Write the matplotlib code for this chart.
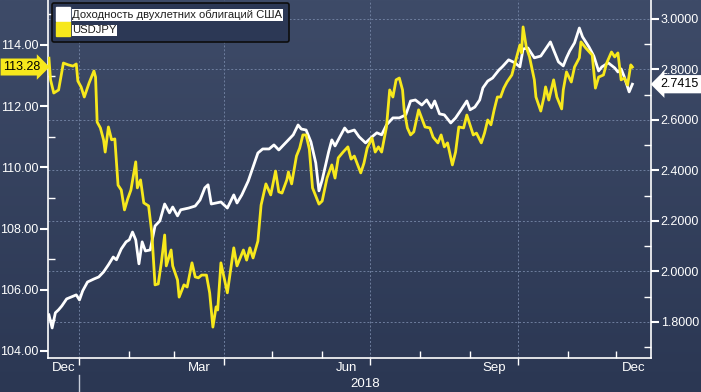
import numpy as np
import pandas as pd
import matplotlib
matplotlib.use('Agg')
import matplotlib.pyplot as plt
import matplotlib.dates as mdates
import matplotlib.ticker as mticker
import matplotlib.transforms as mtransforms
from matplotlib.lines import Line2D

plt.rcParams['font.family'] = ['Liberation Sans', 'DejaVu Sans']

# USDJPY (left axis)
jpy_dates = [
    '2017-12-13', '2017-12-14', '2017-12-16', '2017-12-19', '2017-12-22', '2017-12-25', '2017-12-28', '2017-12-30', '2017-12-31',
    '2018-01-02', '2018-01-04', '2018-01-07', '2018-01-10', '2018-01-11', '2018-01-12', '2018-01-14', '2018-01-16',
    '2018-01-17', '2018-01-19', '2018-01-21', '2018-01-23', '2018-01-25', '2018-01-27', '2018-01-29', '2018-01-31',
    '2018-02-02', '2018-02-05', '2018-02-06', '2018-02-08', '2018-02-10', '2018-02-13', '2018-02-15', '2018-02-17',
    '2018-02-19', '2018-02-21', '2018-02-23', '2018-02-24', '2018-02-27', '2018-02-28',
    '2018-03-03', '2018-03-04', '2018-03-07', '2018-03-09', '2018-03-12', '2018-03-14', '2018-03-16', '2018-03-18',
    '2018-03-21', '2018-03-23', '2018-03-25', '2018-03-27', '2018-03-28', '2018-03-30',
    '2018-04-03', '2018-04-07', '2018-04-09', '2018-04-13', '2018-04-15', '2018-04-17', '2018-04-19', '2018-04-22',
    '2018-04-24', '2018-04-27', '2018-04-30',
    '2018-05-03', '2018-05-05', '2018-05-07', '2018-05-10', '2018-05-11', '2018-05-13', '2018-05-16', '2018-05-18',
    '2018-05-20', '2018-05-22', '2018-05-24', '2018-05-26', '2018-05-30',
    '2018-06-01', '2018-06-04', '2018-06-07', '2018-06-09', '2018-06-11', '2018-06-14', '2018-06-17', '2018-06-19',
    '2018-06-21', '2018-06-25', '2018-06-27', '2018-06-29',
    '2018-07-02', '2018-07-04', '2018-07-06', '2018-07-08', '2018-07-11', '2018-07-13', '2018-07-15', '2018-07-17',
    '2018-07-19', '2018-07-21', '2018-07-22', '2018-07-24', '2018-07-26', '2018-07-28', '2018-07-31',
    '2018-08-04', '2018-08-07', '2018-08-09', '2018-08-12', '2018-08-14', '2018-08-16', '2018-08-18', '2018-08-21',
    '2018-08-23', '2018-08-25', '2018-08-28', '2018-08-30',
    '2018-09-03', '2018-09-05', '2018-09-08', '2018-09-10', '2018-09-12', '2018-09-14', '2018-09-16', '2018-09-18',
    '2018-09-20', '2018-09-22', '2018-09-24', '2018-09-27', '2018-09-30',
    '2018-10-02', '2018-10-03', '2018-10-04', '2018-10-06', '2018-10-08', '2018-10-11', '2018-10-12', '2018-10-15',
    '2018-10-17', '2018-10-18', '2018-10-20', '2018-10-23', '2018-10-25', '2018-10-28', '2018-10-29', '2018-10-31',
    '2018-11-03', '2018-11-05', '2018-11-08', '2018-11-09', '2018-11-12', '2018-11-16', '2018-11-18', '2018-11-20',
    '2018-11-23', '2018-11-25', '2018-11-28', '2018-11-30',
    '2018-12-02', '2018-12-04', '2018-12-06', '2018-12-08', '2018-12-10', '2018-12-11',
]
jpy_values = [
    113.57, 112.86, 112.43, 112.53, 113.41, 113.35, 113.31, 113.38, 112.82,
    112.63, 112.30, 112.76, 113.15, 112.95, 111.48, 111.29, 110.90,
    110.50, 111.32, 110.90, 110.93, 109.42, 109.26, 108.61, 108.97,
    109.26, 110.18, 109.33, 109.59, 108.84, 108.74, 107.86, 106.16,
    106.19, 106.91, 107.79, 106.78, 107.30, 106.78,
    106.32, 105.76, 106.16, 106.09, 106.88, 106.42, 106.39, 106.48,
    106.48, 105.90, 104.78, 105.44, 105.34, 106.88,
    105.90, 107.37, 106.78, 107.30, 106.97, 107.37, 107.04, 107.59,
    108.77, 109.46, 109.10,
    109.88, 109.20, 109.16, 109.59, 109.85, 109.46, 110.37, 110.63,
    111.06, 111.06, 110.60, 109.33, 108.80,
    108.90, 109.65, 110.08, 109.65, 110.31, 110.50, 110.67, 110.27,
    110.37, 109.82, 110.14, 110.63,
    110.96, 110.50, 110.67, 110.50, 111.32, 112.53, 112.30, 112.86,
    112.92, 112.53, 111.88, 111.29, 111.06, 111.16, 111.88,
    111.32, 111.29, 110.99, 110.80, 111.06, 110.67, 110.80, 110.08,
    110.50, 111.32, 111.29, 111.71,
    111.06, 111.12, 110.80, 111.12, 111.55, 111.39, 111.88, 112.30,
    112.30, 112.59, 112.79, 113.02, 113.61,
    114.00, 113.74, 114.59, 113.93, 113.61, 112.86, 112.30, 111.84,
    112.30, 112.63, 112.20, 112.86, 112.30, 111.91, 112.53, 113.12,
    112.79, 113.28, 113.58, 114.10, 113.90, 113.67, 112.59, 112.95,
    113.02, 113.41, 113.77, 113.61,
    113.74, 112.86, 112.92, 112.69, 113.35, 113.28,
]

# US 2-year yield (right axis)
ust_dates = [
    '2017-12-13', '2017-12-15', '2017-12-17', '2017-12-19', '2017-12-21', '2017-12-24', '2017-12-27', '2017-12-30',
    '2018-01-01', '2018-01-03', '2018-01-06', '2018-01-10', '2018-01-13', '2018-01-16', '2018-01-19', '2018-01-22',
    '2018-01-24', '2018-01-27', '2018-01-30',
    '2018-02-01', '2018-02-03', '2018-02-05', '2018-02-07', '2018-02-09', '2018-02-11', '2018-02-14', '2018-02-17',
    '2018-02-20', '2018-02-23', '2018-02-26', '2018-02-28',
    '2018-03-03', '2018-03-05', '2018-03-10', '2018-03-14', '2018-03-17', '2018-03-20', '2018-03-22', '2018-03-24',
    '2018-03-27', '2018-03-30',
    '2018-04-03', '2018-04-07', '2018-04-09', '2018-04-12', '2018-04-16', '2018-04-22', '2018-04-25', '2018-04-29',
    '2018-05-02', '2018-05-05', '2018-05-08', '2018-05-11', '2018-05-14', '2018-05-17', '2018-05-19', '2018-05-22',
    '2018-05-25', '2018-05-28', '2018-05-30',
    '2018-06-01', '2018-06-05', '2018-06-07', '2018-06-09', '2018-06-12', '2018-06-15', '2018-06-17', '2018-06-21',
    '2018-06-24', '2018-06-28',
    '2018-07-02', '2018-07-05', '2018-07-08', '2018-07-11', '2018-07-15', '2018-07-19', '2018-07-23', '2018-07-26',
    '2018-07-29',
    '2018-08-02', '2018-08-05', '2018-08-08', '2018-08-10', '2018-08-13', '2018-08-16', '2018-08-20', '2018-08-23',
    '2018-08-26', '2018-08-30',
    '2018-09-01', '2018-09-04', '2018-09-07', '2018-09-09', '2018-09-12', '2018-09-15', '2018-09-19', '2018-09-21',
    '2018-09-25', '2018-09-29',
    '2018-10-02', '2018-10-04', '2018-10-07', '2018-10-11', '2018-10-15', '2018-10-18', '2018-10-21', '2018-10-23',
    '2018-10-26', '2018-10-29', '2018-10-31',
    '2018-11-02', '2018-11-05', '2018-11-08', '2018-11-10', '2018-11-14', '2018-11-17', '2018-11-20', '2018-11-22',
    '2018-11-26', '2018-11-30',
    '2018-12-02', '2018-12-04', '2018-12-06', '2018-12-09', '2018-12-11',
]
ust_values = [
    1.828, 1.776, 1.836, 1.848, 1.863, 1.891, 1.899, 1.907,
    1.887, 1.923, 1.958, 1.970, 1.978, 1.998, 2.026, 2.057,
    2.046, 2.089, 2.117,
    2.125, 2.156, 2.125, 2.030, 2.117, 2.081, 2.085, 2.180,
    2.200, 2.267, 2.232, 2.255,
    2.220, 2.244, 2.251, 2.259, 2.283, 2.331, 2.343, 2.267,
    2.271, 2.275,
    2.251, 2.303, 2.271, 2.303, 2.358, 2.469, 2.485, 2.485,
    2.501, 2.481, 2.501, 2.521, 2.541, 2.580, 2.564, 2.560,
    2.513, 2.430, 2.319,
    2.362, 2.473, 2.521, 2.497, 2.533, 2.568, 2.552, 2.560,
    2.533, 2.509,
    2.533, 2.549, 2.541, 2.580, 2.608, 2.608, 2.620, 2.675,
    2.679,
    2.659, 2.679, 2.648, 2.675, 2.624, 2.620, 2.588, 2.608,
    2.636, 2.675,
    2.640, 2.651, 2.679, 2.727, 2.754, 2.766, 2.798, 2.810,
    2.838, 2.826,
    2.810, 2.881, 2.885, 2.846, 2.853, 2.881, 2.909, 2.877,
    2.830, 2.814, 2.846,
    2.873, 2.905, 2.964, 2.929, 2.889, 2.853, 2.794, 2.810,
    2.826, 2.806,
    2.790, 2.802, 2.770, 2.711, 2.7415,
]

legend_labels = ['Доходность двухлетних облигаций США', 'USDJPY']
month_labels = ['Dec', 'Mar', 'Jun', 'Sep', 'Dec']
month_label_starts = ['2017-12-01', '2018-03-01', '2018-06-01', '2018-09-01', '2018-12-01']
year_label = '2018'

yellow = '#f7e81c'
bg_top = np.array([62, 75, 104]) / 255
bg_bottom = np.array([43, 55, 83]) / 255
grid_color = '#6e7e9e'

x_start = pd.Timestamp('2017-12-12 10:00')
x_end = pd.Timestamp('2018-12-22 14:00')

fig = plt.figure(figsize=(7.01, 3.92), dpi=100)

# vertical gradient background
bg = fig.add_axes([0, 0, 1, 1], zorder=-10)
grad = np.linspace(1, 0, 256)[:, None, None]
bg.imshow(bg_bottom + (bg_top - bg_bottom) * grad, aspect='auto', extent=[0, 1, 0, 1])
bg.axis('off')

ax = fig.add_axes([48 / 701, 34 / 392, 603 / 701, 358 / 392])
ax.patch.set_alpha(0)
ax.plot(pd.to_datetime(ust_dates), ust_values, color='white', lw=2.0, zorder=3)
ax.set_ylim(1.657, 3.075)
ax.set_xlim(x_start, x_end)

ax2 = ax.twinx()
ax2.plot(pd.to_datetime(jpy_dates), jpy_values, color=yellow, lw=2.0, zorder=3)
ax2.set_ylim(103.77, 115.47)

ax.yaxis.tick_right()
ax2.yaxis.tick_left()

for s in ax2.spines.values():
    s.set_visible(False)
ax.spines['top'].set_visible(False)
for side in ['left', 'right', 'bottom']:
    ax.spines[side].set_color('white')
    ax.spines[side].set_linewidth(1.2)

# right axis (yield)
ax.yaxis.set_major_locator(mticker.MultipleLocator(0.2))
ax.yaxis.set_minor_locator(mticker.MultipleLocator(0.1))
ax.yaxis.set_major_formatter(mticker.FormatStrFormatter('%.4f'))
# left axis (USDJPY)
ax2.yaxis.set_major_locator(mticker.MultipleLocator(2))
ax2.yaxis.set_minor_locator(mticker.MultipleLocator(1))
ax2.yaxis.set_major_formatter(mticker.FormatStrFormatter('%.2f'))

for a in (ax, ax2):
    a.tick_params(axis='y', which='major', direction='out', length=6, width=1.5,
                  color='white', labelcolor='white', labelsize=9, pad=1)
    a.tick_params(axis='y', which='minor', direction='in', length=5, width=1, color='white')

# x axis: quarter starts outside, month starts inside
ax.xaxis.set_major_locator(mdates.MonthLocator(bymonth=[1, 4, 7, 10]))
ax.xaxis.set_minor_locator(mdates.MonthLocator())
ax.xaxis.set_major_formatter(mticker.NullFormatter())
ax.xaxis.set_minor_formatter(mticker.NullFormatter())
ax.tick_params(axis='x', which='major', direction='out', length=5, width=1, color='white')
ax.tick_params(axis='x', which='minor', direction='in', length=5, width=1, color='white')

ax.set_axisbelow(True)
ax.grid(True, which='major', color=grid_color, linestyle=(0, (2, 2)), linewidth=0.7)

# month and year labels
tr = mtransforms.blended_transform_factory(ax.transData, ax.transAxes)
for lab, start in zip(month_labels, month_label_starts):
    m0 = max(pd.Timestamp(start), x_start)
    m1 = min(pd.Timestamp(start) + pd.offsets.MonthBegin(1), x_end)
    mid = m0 + (m1 - m0) / 2
    ax.text(mid, -0.028, lab, transform=tr, ha='center', va='center',
            color='white', fontsize=9.5)
year_start = pd.Timestamp(year_label + '-01-01')
ax.add_line(Line2D([year_start, year_start], [-0.047, -0.1], transform=tr,
                   color='#c8cedb', lw=1, clip_on=False))
ax.text(year_start + (x_end - year_start) / 2, -0.073, year_label, transform=tr,
        ha='center', va='center', color='white', fontsize=9.5)

# legend
handles = [Line2D([], [], marker='s', color='white', linestyle='none', markersize=9.5),
           Line2D([], [], marker='s', color=yellow, linestyle='none', markersize=9.5)]
leg = ax2.legend(handles, legend_labels, loc='upper left', bbox_to_anchor=(0.007, 0.992),
                 fontsize=8.1, frameon=True, facecolor='#2c3855', edgecolor='#0d0d0d',
                 framealpha=1, handlelength=0.8, handletextpad=0.4, borderpad=0.6,
                 labelspacing=0.45, borderaxespad=0)
leg.get_frame().set_linewidth(1.2)
for t in leg.get_texts():
    t.set_color('#1e1e1e')
    t.set_bbox(dict(facecolor='white', edgecolor='none', pad=0.3))

# last value tags
ax2.annotate(f'{jpy_values[-1]:.2f}', xy=(0, jpy_values[-1]), xycoords=('axes fraction', 'data'),
             xytext=(-5.5, 0), textcoords='offset points', ha='right', va='center',
             fontsize=9, color='black', zorder=10, annotation_clip=False,
             bbox=dict(boxstyle='rarrow,pad=0.2', fc=yellow, ec='none'))
ax2.annotate(f'{ust_values[-1]:.4f}', xy=(1, ust_values[-1]), xycoords=('axes fraction', ax.transData),
             xytext=(7, 0), textcoords='offset points', ha='left', va='center',
             fontsize=9, color='black', zorder=10, annotation_clip=False,
             bbox=dict(boxstyle='larrow,pad=0.25', fc='white', ec='none'))

fig.savefig('out.png', dpi=100)
